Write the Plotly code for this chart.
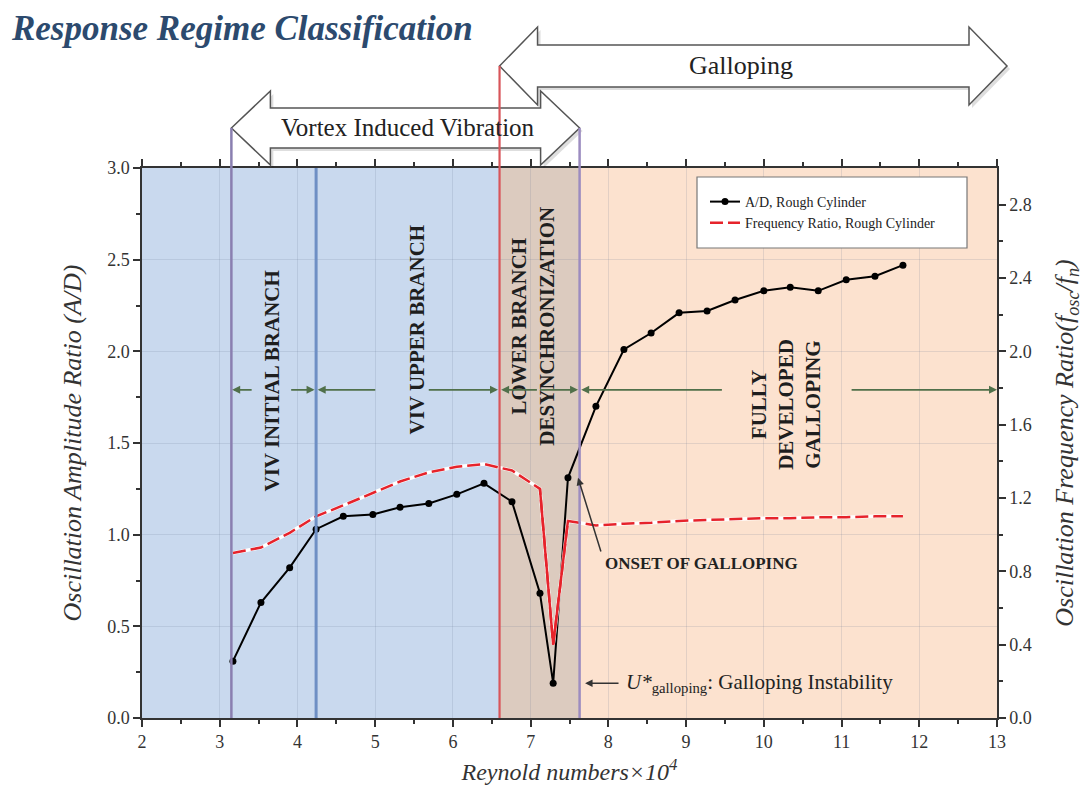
import plotly.graph_objects as go

# ---------------- data ----------------
reynolds = [3.17, 3.53, 3.90, 4.24, 4.59, 4.97, 5.32, 5.69, 6.05, 6.40, 6.76, 7.12, 7.29,
            7.48, 7.84, 8.20, 8.55, 8.91, 9.27, 9.63, 10.00, 10.34, 10.70, 11.06, 11.43, 11.79]
amp_ratio = [0.31, 0.63, 0.82, 1.03, 1.10, 1.11, 1.15, 1.17, 1.22, 1.28, 1.18, 0.68, 0.19,
             1.31, 1.70, 2.01, 2.10, 2.21, 2.22, 2.28, 2.33, 2.35, 2.33, 2.39, 2.41, 2.47]
freq_ratio = [0.90, 0.93, 1.01, 1.10, 1.16, 1.23, 1.29, 1.34, 1.37, 1.385, 1.35, 1.25, 0.40,
              1.075, 1.05, 1.06, 1.065, 1.075, 1.08, 1.085, 1.09, 1.09, 1.095, 1.095, 1.10, 1.10]

boundaries = [3.15, 4.24, 6.6, 7.63]       # regime boundaries (Re x 10^4)
x_range = [2, 13]
y_range = [0, 3]
y2_ticks = [0.0, 0.4, 0.8, 1.2, 1.6, 2.0, 2.4, 2.8]
y2_minor = [0.2, 0.6, 1.0, 1.4, 1.8, 2.2, 2.6]

regime_labels = ["VIV INITIAL BRANCH", "VIV UPPER BRANCH",
                 "LOWER BRANCH<br>DESYNCHRONIZATION", "FULLY<br>DEVELOPED<br>GALLOPING"]
label_x = [3.67, 5.54, 7.03, 10.29]
label_y = [1.84, 2.12, 2.14, 1.71]
band_y = 1.79

SERIF = "Liberation Serif"

# plot area geometry (px)
L, R, T, B = 142, 89, 168, 81
W, H = 1086, 799
PW, PH = W - L - R, H - T - B


def xp(v):
    """data x -> paper x"""
    return (v - x_range[0]) / (x_range[1] - x_range[0])


def yp_px(py):
    """pixel y (from top of page) -> paper y"""
    return (H - B - py) / PH


def xp_px(px):
    return (px - L) / PW


fig = go.Figure()

# ---------------- traces ----------------
fig.add_trace(go.Scatter(
    x=reynolds, y=amp_ratio, mode="lines+markers", name="A/D, Rough Cylinder",
    line=dict(color="black", width=2), marker=dict(color="black", size=7),
))
fig.add_trace(go.Scatter(
    x=reynolds, y=freq_ratio, yaxis="y2", mode="lines", showlegend=False,
    line=dict(color="white", width=3.5), hoverinfo="skip",
))
fig.add_trace(go.Scatter(
    x=reynolds, y=freq_ratio, yaxis="y2", mode="lines", name="Frequency Ratio, Rough Cylinder",
    line=dict(color="#e6232b", width=2.5, dash="13px,5px"),
))
fig.add_trace(go.Scatter(
    x=reynolds[11:14], y=freq_ratio[11:14], yaxis="y2", mode="lines", showlegend=False,
    line=dict(color="#e6232b", width=2.5), hoverinfo="skip",
))

shapes = []
# ---------------- background regions ----------------
region_edges = [x_range[0], boundaries[2], boundaries[3], x_range[1]]
region_colors = ["#c9d9ee", "#dccbbf", "#fce2cf"]
for i, c in enumerate(region_colors):
    shapes.append(dict(type="rect", xref="x", yref="paper", x0=region_edges[i], x1=region_edges[i + 1],
                       y0=0, y1=1, fillcolor=c, line=dict(width=0), layer="below"))

# legend box
shapes.append(dict(type="rect", xref="paper", yref="paper", x0=xp_px(697), x1=xp_px(967),
                   y0=yp_px(248), y1=yp_px(177), fillcolor="white",
                   line=dict(color="#777", width=1.2), layer="above"))


# ---------------- double arrows above the plot ----------------
def double_arrow(x_tip_l, x_tip_r, yc_px, shaft_half, head_half, head_len):
    yc = yp_px(yc_px)
    st, sb = yp_px(yc_px - shaft_half), yp_px(yc_px + shaft_half)
    ht, hb = yp_px(yc_px - head_half), yp_px(yc_px + head_half)
    hl = head_len / PW
    a, b = x_tip_l, x_tip_r
    return (f"M {a},{yc} L {a+hl},{ht} L {a+hl},{st} L {b-hl},{st} L {b-hl},{ht} "
            f"L {b},{yc} L {b-hl},{hb} L {b-hl},{sb} L {a+hl},{sb} L {a+hl},{hb} Z")


viv_l, viv_r = xp(boundaries[0]), xp(boundaries[3])
gal_l, gal_r = xp(boundaries[2]), xp_px(1007)
for (a, b, yc, sh, hh, hl) in [(gal_l, gal_r, 66, 21, 39, 38), (viv_l, viv_r, 128, 20, 37, 39)]:
    # soft shadow
    shapes.append(dict(type="path", xref="paper", yref="paper",
                       path=double_arrow(a + 3 / PW, b + 3 / PW, yc + 3, sh, hh, hl),
                       fillcolor="rgba(0,0,0,0.13)", line=dict(width=0), layer="above"))
    shapes.append(dict(type="path", xref="paper", yref="paper",
                       path=double_arrow(a, b, yc, sh, hh, hl),
                       fillcolor="white", line=dict(color="#555", width=1.5), layer="above"))

# ---------------- vertical boundary lines ----------------
line_tops = [yp_px(128), 1.0, yp_px(66), yp_px(128)]
line_colors = ["#8a7fb0", "#6e8fc4", "#d8555a", "#9c8cc0"]
line_widths = [2.5, 3, 2.2, 2.5]
for bx, top, c, w in zip(boundaries, line_tops, line_colors, line_widths):
    shapes.append(dict(type="line", xref="paper", yref="paper", x0=xp(bx), x1=xp(bx),
                       y0=0, y1=top, line=dict(color=c, width=w), layer="above"))

annotations = []
annotations.append(dict(text="Vortex Induced Vibration", xref="paper", yref="paper",
                        x=xp_px(408), y=yp_px(128), xanchor="center", yanchor="middle",
                        showarrow=False, font=dict(family=SERIF, size=25, color="#222")))
annotations.append(dict(text="Galloping", xref="paper", yref="paper",
                        x=xp_px(741), y=yp_px(66), xanchor="center", yanchor="middle",
                        showarrow=False, font=dict(family=SERIF, size=26, color="#222")))

# regime labels
for t, lx, ly in zip(regime_labels, label_x, label_y):
    annotations.append(dict(text=f"<b>{t}</b>", x=lx, y=ly, xref="x", yref="y", textangle=-90,
                            showarrow=False, font=dict(family=SERIF, size=21, color="#1e1e1e")))

# green span arrows (tail, head)
green_segments = [(3.43, 3.16), (3.90, 4.22), (5.02, 4.26), (5.67, 6.58),
                  (7.10, 6.62), (7.10, 7.61), (9.48, 7.65), (11.11, 13.0)]
for tail, head in green_segments:
    annotations.append(dict(text="", x=head, y=band_y, ax=tail, ay=band_y, xref="x", yref="y",
                            axref="x", ayref="y", showarrow=True, arrowhead=2, arrowsize=1,
                            arrowwidth=1.6, arrowcolor="#50704a"))

# onset of galloping
annotations.append(dict(text="", x=7.61, y=1.31, ax=7.91, ay=0.90, xref="x", yref="y",
                        axref="x", ayref="y", showarrow=True, arrowhead=2, arrowsize=1,
                        arrowwidth=1.5, arrowcolor="#333"))
annotations.append(dict(text="<b>ONSET OF GALLOPING</b>", x=7.93, y=0.845, xref="x", yref="y",
                        xanchor="left", yanchor="middle", showarrow=False,
                        font=dict(family=SERIF, size=17, color="#222")))
# galloping instability
annotations.append(dict(text="", x=7.70, y=0.19, ax=8.15, ay=0.19, xref="x", yref="y",
                        axref="x", ayref="y", showarrow=True, arrowhead=2, arrowsize=1,
                        arrowwidth=1.5, arrowcolor="#333"))
annotations.append(dict(text="<i>U*</i><sub>galloping</sub>: Galloping Instability", x=8.2, y=0.19,
                        xref="x", yref="y", xanchor="left", yanchor="middle", showarrow=False,
                        font=dict(family=SERIF, size=21, color="#222")))

axis_common = dict(
    showline=True, linecolor="#333", linewidth=1.5, ticks="outside", ticklen=7, tickwidth=1.5,
    tickcolor="#333", tickfont=dict(family=SERIF, size=18, color="#333"), zeroline=False,
)

fig.update_layout(
    width=W, height=H, margin=dict(l=L, r=R, t=T, b=B),
    paper_bgcolor="white", plot_bgcolor="white",
    title=dict(text="<b><i>Response Regime Classification</i></b>", x=0.011, xanchor="left",
               y=1 - 28 / H, yanchor="middle",
               font=dict(family=SERIF, size=35, color="#2c4a6e")),
    xaxis=dict(range=x_range, dtick=1, mirror="ticks",
               minor=dict(dtick=0.5, ticks="outside", ticklen=4, tickcolor="#333", showgrid=False),
               showgrid=True, gridcolor="rgba(110,120,150,0.18)",
               title=dict(text="Reynold numbers×10<sup>4</sup>", standoff=12,
                          font=dict(family=SERIF, size=24, style="italic", color="#333")),
               **axis_common),
    yaxis=dict(range=y_range, dtick=0.5, tickformat=".1f",
               minor=dict(dtick=0.25, ticks="outside", ticklen=4, tickcolor="#333", showgrid=False),
               showgrid=True, gridcolor="rgba(110,120,150,0.18)",
               title=dict(text="Oscillation Amplitude Ratio (A/D)", standoff=18,
                          font=dict(family=SERIF, size=26, style="italic", color="#333")),
               **axis_common),
    yaxis2=dict(range=y_range, overlaying="y", side="right", tickvals=y2_ticks, tickformat=".1f",
                minor=dict(tickvals=y2_minor, ticks="outside", ticklen=4, tickcolor="#333"),
                showgrid=False,
                title=dict(text="Oscillation Frequency Ratio(<i>f</i><sub>osc</sub>/<i>f</i><sub>n</sub>)",
                           standoff=24,
                           font=dict(family=SERIF, size=26, style="italic", color="#333")),
                **axis_common),
    legend=dict(x=xp_px(705), y=yp_px(186), xanchor="left", yanchor="top",
                bgcolor="rgba(0,0,0,0)", font=dict(family=SERIF, size=14, color="#222"),
                tracegroupgap=0),
    shapes=shapes, annotations=annotations, showlegend=True,
)

fig.write_html("out.html")
